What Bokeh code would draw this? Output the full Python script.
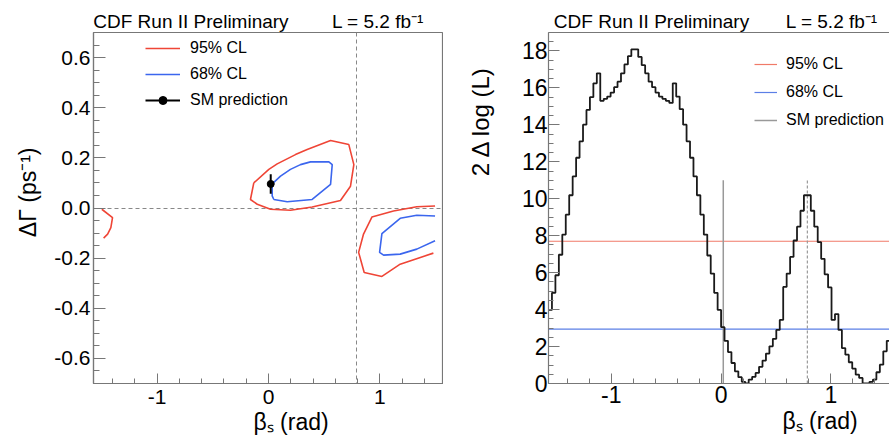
import numpy as np
from bokeh.plotting import figure
from bokeh.models import (Range1d, FixedTicker, PrintfTickFormatter, Legend,
                          LegendItem, LinearAxis, Title)
from bokeh.layouts import row
from bokeh.embed import file_html
from bokeh.resources import INLINE

FONT = "Liberation Sans"
HALF_PI = np.pi / 2

# ---------------- data ----------------
beta_ticks = [-1, 0, 1]
beta_minor = [-1.4, -1.2, -0.8, -0.6, -0.4, -0.2, 0.2, 0.4, 0.6, 0.8, 1.2, 1.4]
dgamma_ticks = [-0.6, -0.4, -0.2, 0.0, 0.2, 0.4, 0.6]
dgamma_minor = [round(v, 2) for v in np.arange(-0.65, 0.66, 0.05)]
nll_ticks = [0, 2, 4, 6, 8, 10, 12, 14, 16, 18]
nll_minor = [round(v, 1) for v in np.arange(0, 19.01, 0.5)]

header_left = "CDF Run II Preliminary"
header_right = "L = 5.2 fb\u207b\u00b9"

# 95% CL contour pieces (beta_s, DeltaGamma)
cl95_x = [
    [-0.132, -0.162, -0.101, 0.018, 0.197, 0.392, 0.646, 0.736, 0.766, 0.721, 0.557, 0.347, 0.242, 0.078, 0.003, -0.132],
    [-1.496, -1.400, -1.415, -1.444, -1.480],
    [1.495, 1.331, 1.122, 0.928, 0.853, 0.809, 0.859, 1.018, 1.182, 1.480],
]
cl95_y = [
    [0.100, 0.034, 0.015, -0.005, -0.009, 0.004, 0.030, 0.087, 0.173, 0.253, 0.269, 0.233, 0.213, 0.176, 0.154, 0.100],
    [-0.005, -0.038, -0.078, -0.104, -0.120],
    [0.008, 0.005, -0.012, -0.036, -0.104, -0.177, -0.257, -0.273, -0.224, -0.180],
]
# 68% CL contour pieces
cl68_x = [
    [0.048, 0.168, 0.392, 0.557, 0.572, 0.542, 0.377, 0.287, 0.197, 0.108, 0.033, 0.033, 0.048],
    [1.495, 1.331, 1.182, 1.018, 0.997, 1.033, 1.182, 1.331, 1.495],
]
cl68_y = [
    [0.034, 0.025, 0.034, 0.094, 0.173, 0.184, 0.184, 0.173, 0.154, 0.127, 0.096, 0.048, 0.034],
    [-0.032, -0.029, -0.041, -0.102, -0.177, -0.188, -0.184, -0.164, -0.131],
]
sm_beta = 0.02
sm_dgamma = 0.096
sm_dgamma_err = 0.039
sym_beta = np.pi / 4
marker_top = 11.0

# 2 Delta log(L) profile, 100 bins over [-pi/2, pi/2]
nll_values = [
    3.98, 4.91, 5.86, 6.97, 8.06, 9.14, 10.19, 11.21, 12.22, 13.11,
    14.01, 14.81, 15.50, 16.25, 16.79, 15.30, 15.41, 15.53, 15.75, 16.04,
    16.34, 16.79, 17.27, 17.72, 18.09, 18.09, 17.68, 17.23, 16.79, 16.34,
    16.04, 15.75, 15.53, 15.41, 15.30, 15.19, 16.25, 15.53, 14.85, 14.01,
    13.11, 12.22, 11.21, 10.19, 9.14, 8.06, 6.93, 5.95, 4.91, 3.98,
    3.05, 2.31, 1.70, 1.11, 0.66, 0.34, 0.09, 0.00, 0.21, 0.36,
    0.57, 0.90, 1.24, 1.62, 2.01, 2.42, 2.90, 3.44, 5.23, 5.95,
    6.85, 7.74, 8.49, 9.35, 10.19, 10.19, 9.35, 8.49, 7.65, 6.75,
    5.91, 5.20, 3.44, 3.76, 2.90, 1.92, 1.56, 1.15, 0.81, 0.48,
    0.30, 0.00, 0.00, 0.09, 0.21, 0.61, 1.02, 1.74, 2.31, 3.15,
]
cl_labels = ["95% CL", "68% CL"]
cl_levels = [7.7, 2.94]

RED = "#ef4536"
BLUE = "#3b66ee"
AXC = "#777777"


def style(p, tick_size, xmaj, xmin, ymaj, ymin, ytick_in, ystand, xstand):
    p.xgrid.visible = False
    p.ygrid.visible = False
    p.background_fill_color = "white"
    p.border_fill_color = "white"
    p.xaxis.ticker = FixedTicker(ticks=xmaj, minor_ticks=xmin)
    p.yaxis.ticker = FixedTicker(ticks=ymaj, minor_ticks=ymin)
    for ax in (p.xaxis[0], p.yaxis[0]):
        ax.axis_line_color = AXC
        ax.axis_line_width = 1.2
        ax.major_tick_line_color = AXC
        ax.minor_tick_line_color = AXC
        ax.major_tick_out = 0
        ax.minor_tick_out = 0
        ax.major_label_text_font = FONT
        ax.major_label_text_font_size = tick_size
        ax.major_label_text_color = "black"
    p.xaxis.major_tick_in = 10
    p.xaxis.minor_tick_in = 5
    p.yaxis.major_tick_in = ytick_in
    p.yaxis.minor_tick_in = ytick_in // 2
    p.yaxis.major_label_standoff = ystand
    p.xaxis.major_label_standoff = xstand
    p.xaxis.formatter = PrintfTickFormatter(format="%d")


def header_axis(p, pos_left, pos_right, line_color):
    ax = LinearAxis(ticker=FixedTicker(ticks=[pos_left, pos_right]),
                    major_label_overrides={pos_left: header_left, pos_right: header_right},
                    major_tick_in=0, major_tick_out=0, minor_tick_in=0, minor_tick_out=0,
                    major_label_standoff=1, major_label_text_font=FONT,
                    major_label_text_font_size="19px", major_label_text_color="black",
                    axis_line_color=line_color, axis_line_width=1.2)
    p.add_layout(ax, "above")


def title(p, side, text, size, align, offset, standoff, valign):
    p.add_layout(Title(text=text, align=align, offset=offset, standoff=standoff,
                       vertical_align=valign, text_font=FONT, text_font_size=f"{size}px",
                       text_font_style="normal", text_color="black"), side)


# ---------------- left: contours ----------------
p1 = figure(width=443, height=441, x_range=Range1d(-HALF_PI, HALF_PI),
            y_range=Range1d(-0.7, 0.7), output_backend="svg", toolbar_location=None,
            min_border_left=93, min_border_right=0, min_border_top=32, min_border_bottom=58)
style(p1, "21px", beta_ticks, beta_minor, dgamma_ticks, dgamma_minor, 12, 3, 6)
p1.yaxis.formatter = PrintfTickFormatter(format="%.1f")
p1.outline_line_color = AXC
p1.outline_line_width = 1.2
header_axis(p1, -0.696, 0.983, None)
title(p1, "left", "ΔΓ (ps\u207b\u00b9)", 23, "right", 115, 22, "bottom")
title(p1, "below", "β\u209b (rad)", 23, "left", 160, 0, "bottom")

p1.hspan(y=[0.0], line_color="#888888", line_dash="4 3", line_width=1)
p1.vspan(x=[sym_beta], line_color="#888888", line_dash="4 3", line_width=1)

r95 = p1.multi_line(xs=cl95_x, ys=cl95_y, line_color=RED, line_width=1.6)
r68 = p1.multi_line(xs=cl68_x, ys=cl68_y, line_color=BLUE, line_width=1.6)
rsm_bar = p1.segment(x0=[sm_beta], y0=[sm_dgamma - sm_dgamma_err], x1=[sm_beta],
                     y1=[sm_dgamma + sm_dgamma_err], line_color="black", line_width=2)
rsm_pt = p1.scatter([sm_beta], [sm_dgamma], size=7, color="black")

leg1 = Legend(items=[LegendItem(label="95% CL", renderers=[r95]),
                     LegendItem(label="68% CL", renderers=[r68]),
                     LegendItem(label="SM prediction", renderers=[rsm_bar, rsm_pt])],
              location=(52, 273), glyph_width=35, glyph_height=20, spacing=6,
              padding=0, margin=0, label_standoff=10, label_text_font=FONT,
              label_text_font_size="16px", label_text_color="black",
              border_line_color=None, background_fill_alpha=0)
p1.add_layout(leg1)

# ---------------- right: profile likelihood ----------------
XR_END = 1.533
p2 = figure(width=446, height=441, x_range=Range1d(-HALF_PI, XR_END),
            y_range=Range1d(0, 19), output_backend="svg", toolbar_location=None,
            min_border_left=103, min_border_right=0, min_border_top=32, min_border_bottom=56)
style(p2, "23px", beta_ticks, beta_minor, nll_ticks, nll_minor, 11, 1, 2)
p2.outline_line_color = None
header_axis(p2, -0.633, 1.008, AXC)
title(p2, "left", "2 Δ log (L)", 24, "right", 33, 46, "top")
title(p2, "below", "β\u209b (rad)", 23, "left", 234, 0, "bottom")

r_cl95 = p2.segment(x0=[-HALF_PI], x1=[HALF_PI], y0=[cl_levels[0]], y1=[cl_levels[0]],
                    line_color="#f07a68", line_width=1.2)
r_cl68 = p2.segment(x0=[-HALF_PI], x1=[HALF_PI], y0=[cl_levels[1]], y1=[cl_levels[1]],
                    line_color="#5b7fe6", line_width=1.2)
r_sm = p2.segment(x0=[sm_beta], x1=[sm_beta], y0=[0], y1=[marker_top],
                  line_color="#999999", line_width=1.5)
p2.segment(x0=[sym_beta], x1=[sym_beta], y0=[0], y1=[marker_top],
           line_color="#999999", line_width=1.2, line_dash="3 2")

edges = np.linspace(-HALF_PI, HALF_PI, len(nll_values) + 1)
step_x = np.repeat(edges, 2)[1:-1]
step_y = np.repeat(np.array(nll_values), 2)
p2.line(step_x, step_y, line_color="#1a1a1a", line_width=1.8)

leg2 = Legend(items=[LegendItem(label=cl_labels[0], renderers=[r_cl95]),
                     LegendItem(label=cl_labels[1], renderers=[r_cl68]),
                     LegendItem(label="SM prediction", renderers=[r_sm])],
              location=(206, 253), glyph_width=23, glyph_height=20, spacing=8,
              padding=0, margin=0, label_standoff=9, label_text_font=FONT,
              label_text_font_size="16px", label_text_color="black",
              border_line_color=None, background_fill_alpha=0)
p2.add_layout(leg2)

layout = row(p1, p2)
open("out.html", "w").write(file_html(layout, INLINE))
